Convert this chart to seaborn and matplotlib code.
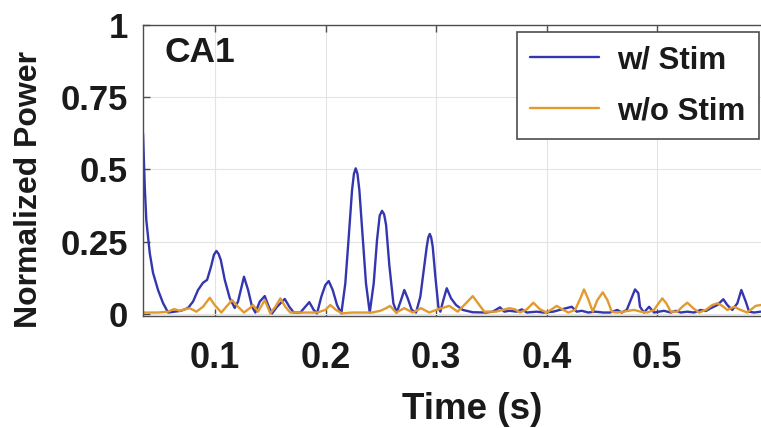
import numpy as np
import pandas as pd
import matplotlib
matplotlib.use("Agg")
import matplotlib.pyplot as plt
import seaborn as sns

# Normalized CA1 power over time, with and without stimulation
t_stim = [0.0348, 0.0364, 0.0378, 0.0409, 0.0439, 0.0484, 0.0529, 0.0575, 0.0635, 0.0692,
          0.0756, 0.0801, 0.0846, 0.0891, 0.0928, 0.0964, 0.0990, 0.1012, 0.1032, 0.1052,
          0.1088, 0.1133,
          0.1178, 0.1208, 0.1262, 0.1299, 0.1335, 0.1365, 0.1405, 0.1450, 0.1486, 0.1516,
          0.1561, 0.1631, 0.1672, 0.1712, 0.1772, 0.1817, 0.1853, 0.1893, 0.1923, 0.1962,
          0.1998, 0.2029, 0.2065, 0.2104, 0.2143, 0.2179, 0.2210, 0.2240, 0.2257, 0.2273,
          0.2289, 0.2306,
          0.2336, 0.2366, 0.2400, 0.2436, 0.2466, 0.2490, 0.2511, 0.2530, 0.2548, 0.2577,
          0.2614, 0.2644,
          0.2683, 0.2713, 0.2744, 0.2780, 0.2819, 0.2858, 0.2889, 0.2916, 0.2930, 0.2943,
          0.2956, 0.2970,
          0.2994, 0.3021, 0.3039, 0.3066, 0.3097, 0.3136, 0.3181, 0.3242, 0.3332, 0.3452,
          0.3513, 0.3579, 0.3618, 0.3663, 0.3730, 0.3776, 0.3821, 0.3911, 0.3971, 0.4062,
          0.4138, 0.4228, 0.4273, 0.4319, 0.4378, 0.4439, 0.4514, 0.4575, 0.4641, 0.4680,
          0.4726, 0.4762, 0.4801, 0.4831, 0.4846, 0.4882, 0.4928, 0.4973, 0.5018, 0.5063,
          0.5124, 0.5169, 0.5214, 0.5274, 0.5335, 0.5395, 0.5441, 0.5486, 0.5546, 0.5600,
          0.5636, 0.5681, 0.5727, 0.5763, 0.5803, 0.5833, 0.5878, 0.5938]
p_stim = [0.625, 0.440, 0.325, 0.211, 0.142, 0.083, 0.038, 0.005, 0.008, 0.011,
          0.021, 0.043, 0.083, 0.108, 0.118, 0.164, 0.205, 0.218, 0.208, 0.187,
          0.118, 0.055,
          0.021, 0.043, 0.129, 0.083, 0.025, 0.005, 0.043, 0.062, 0.025, 0.002,
          0.025, 0.052, 0.025, 0.005, 0.005, 0.025, 0.041, 0.014, 0.002, 0.060,
          0.100, 0.114, 0.083, 0.031, 0.002, 0.106, 0.267, 0.429, 0.485, 0.504,
          0.485, 0.429,
          0.267, 0.106, 0.005, 0.106, 0.256, 0.340, 0.357, 0.345, 0.308, 0.170,
          0.037, 0.005,
          0.048, 0.083, 0.054, 0.014, 0.005, 0.060, 0.152, 0.233, 0.265, 0.277,
          0.265, 0.233,
          0.129, 0.025, 0.008, 0.048, 0.089, 0.054, 0.031, 0.014, 0.006, 0.005,
          0.008, 0.023, 0.008, 0.011, 0.008, 0.016, 0.005, 0.008, 0.005, 0.008,
          0.016, 0.025, 0.008, 0.011, 0.005, 0.008, 0.005, 0.005, 0.014, 0.005,
          0.014, 0.048, 0.085, 0.072, 0.025, 0.005, 0.025, 0.005, 0.008, 0.011,
          0.005, 0.011, 0.005, 0.008, 0.005, 0.014, 0.010, 0.020, 0.031, 0.051,
          0.031, 0.014, 0.037, 0.083, 0.043, 0.008, 0.005, 0.008]

t_nostim = [0.0348, 0.0484, 0.0575, 0.0629, 0.0681, 0.0726, 0.0771, 0.0831, 0.0891, 0.0952,
            0.0997, 0.1057, 0.1102, 0.1154, 0.1208, 0.1262, 0.1314, 0.1344, 0.1389, 0.1450,
            0.1500, 0.1546, 0.1591, 0.1636, 0.1681, 0.1757, 0.1833, 0.1923, 0.1998, 0.2043,
            0.2095, 0.2149, 0.2240, 0.2330, 0.2421, 0.2496, 0.2548, 0.2584, 0.2638, 0.2713,
            0.2790, 0.2864, 0.2939, 0.3000, 0.3120, 0.3196, 0.3271, 0.3332, 0.3392, 0.3437,
            0.3543, 0.3604, 0.3663, 0.3715, 0.3760, 0.3821, 0.3881, 0.3941, 0.4002, 0.4047,
            0.4092, 0.4152, 0.4197, 0.4258, 0.4303, 0.4339, 0.4378, 0.4418, 0.4460, 0.4509,
            0.4551, 0.4590, 0.4635, 0.4695, 0.4792, 0.4853, 0.4912, 0.4973, 0.5018, 0.5048,
            0.5084, 0.5124, 0.5184, 0.5229, 0.5274, 0.5328, 0.5380, 0.5441, 0.5500, 0.5546,
            0.5591, 0.5636, 0.5697, 0.5757, 0.5817, 0.5893, 0.5938]
p_nostim = [0.005, 0.005, 0.008, 0.017, 0.011, 0.016, 0.020, 0.008, 0.025, 0.056,
            0.031, 0.005, 0.025, 0.048, 0.025, 0.005, 0.020, 0.031, 0.008, 0.048,
            0.002, 0.025, 0.054, 0.025, 0.005, 0.005, 0.005, 0.005, 0.014, 0.031,
            0.014, 0.002, 0.005, 0.005, 0.005, 0.011, 0.020, 0.028, 0.005, 0.020,
            0.005, 0.020, 0.005, 0.014, 0.028, 0.008, 0.037, 0.062, 0.031, 0.008,
            0.008, 0.014, 0.020, 0.016, 0.005, 0.016, 0.039, 0.016, 0.005, 0.016,
            0.028, 0.014, 0.005, 0.014, 0.051, 0.085, 0.051, 0.008, 0.048, 0.075,
            0.048, 0.008, 0.005, 0.008, 0.014, 0.008, 0.005, 0.014, 0.039, 0.054,
            0.037, 0.008, 0.008, 0.025, 0.039, 0.020, 0.005, 0.014, 0.031, 0.037,
            0.028, 0.014, 0.025, 0.014, 0.005, 0.028, 0.031]

series_labels = ["w/ Stim", "w/o Stim"]
series_colors = ["#3336AE", "#E29A2E"]
x_ticks = [0.1, 0.2, 0.3, 0.4, 0.5]
y_ticks = [0, 0.25, 0.5, 0.75, 1]
y_tick_labels = ["0", "0.25", "0.5", "0.75", "1"]

df = pd.concat([
    pd.DataFrame({"Time": t_stim, "Power": p_stim, "Condition": series_labels[0]}),
    pd.DataFrame({"Time": t_nostim, "Power": p_nostim, "Condition": series_labels[1]}),
], ignore_index=True)

sns.set_theme(style="whitegrid")
plt.rcParams["font.family"] = ["Liberation Sans", "DejaVu Sans"]
plt.rcParams["font.weight"] = "bold"

fig = plt.figure(figsize=(7.61, 4.28), dpi=100)
fig.patch.set_facecolor("white")
ax = fig.add_axes([143 / 761, 1 - 316 / 428, 1 - 143 / 761, (316 - 25) / 428])

sns.lineplot(data=df, x="Time", y="Power", hue="Condition",
             hue_order=series_labels, palette=series_colors,
             sort=False, estimator=None, linewidth=1.7, legend=False, ax=ax)
for ln in ax.get_lines():
    ln.set_solid_joinstyle("round")
    ln.set_solid_capstyle("round")

ax.set_xlim(0.0348, 0.5941)
ax.set_ylim(-0.007, 1.0)
ax.set_xticks(x_ticks)
ax.set_xticklabels([f"{v:g}" for v in x_ticks])
ax.set_yticks(y_ticks)
ax.set_yticklabels(y_tick_labels)

ax.grid(True, color="#e3e3e3", linewidth=0.8)
ax.set_facecolor("white")
for side in ["left", "bottom", "top"]:
    ax.spines[side].set_visible(True)
    ax.spines[side].set_color("#4d4d4d")
    ax.spines[side].set_linewidth(1.0)
ax.spines["right"].set_visible(False)

ax.tick_params(axis="x", which="both", direction="in", length=5, width=1.0,
               color="#4d4d4d", top=True, bottom=True, labelsize=26, pad=18,
               labelcolor="#1a1a1a")
ax.tick_params(axis="y", which="both", direction="in", length=5, width=1.0,
               color="#4d4d4d", left=True, labelsize=25, pad=11,
               labelcolor="#1a1a1a")
for lab in ax.get_xticklabels() + ax.get_yticklabels():
    lab.set_fontweight("bold")

ax.set_xlabel("Time (s)", fontsize=26.5, fontweight="bold", color="#1a1a1a")
ax.set_ylabel("Normalized Power", fontsize=23, fontweight="bold", color="#1a1a1a")
ax.xaxis.set_label_coords(0.532, -0.262)
ax.yaxis.set_label_coords(-0.16, 0.436)

ax.text((165 - 143) / 618, (316 - 62.5) / 291, "CA1", transform=ax.transAxes,
        fontsize=25.5, fontweight="bold", color="#1a1a1a", ha="left", va="baseline")

handles = ax.get_lines()[:2]
leg = ax.legend(handles, series_labels, loc="upper right",
                bbox_to_anchor=((759 - 143) / 618, (316 - 32) / 291),
                borderaxespad=0, fontsize=22.5, frameon=True, fancybox=False,
                handlelength=2.2, handletextpad=0.6, labelspacing=0.68,
                borderpad=0.42)
leg.get_frame().set_edgecolor("#4d4d4d")
leg.get_frame().set_linewidth(1.2)
leg.get_frame().set_alpha(1)
for txt in leg.get_texts():
    txt.set_fontweight("bold")
    txt.set_color("#1a1a1a")
for lh in leg.get_lines():
    lh.set_linewidth(1.7)

fig.savefig("out.png", dpi=100)
